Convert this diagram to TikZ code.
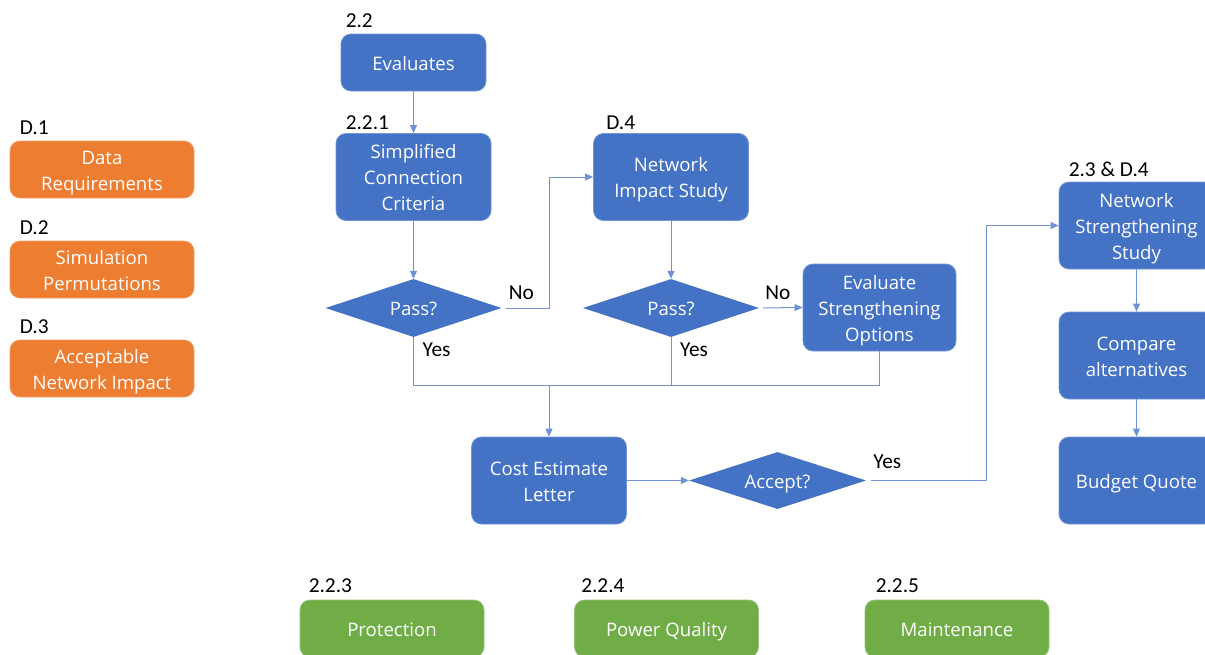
\documentclass[tikz,border=0pt]{standalone}
\usepackage{fontspec}
\usepackage{array}
\setmainfont{Carlito}
\newfontfamily\boxfont{Open Sans}
\usetikzlibrary{shapes.geometric,arrows.meta,calc}
\definecolor{flowblue}{HTML}{4472C4}
\definecolor{linkblue}{HTML}{6E93D6}
\definecolor{dataorange}{HTML}{ED7D31}
\definecolor{studygreen}{HTML}{70AD47}
% centred block of lines, 26pt apart, every line with the same height and depth
\newcommand\rowstrut{\rule[-5.5pt]{0pt}{26pt}}
\newcommand\lines[1]{{\renewcommand\arraystretch{0}%
  \begin{tabular}{@{}>{\rowstrut}c@{}}#1\end{tabular}}}

\begin{document}
\begin{tikzpicture}[x=1pt,y=-1pt,
  box/.style={rectangle, rounded corners=10pt, minimum width=155pt, minimum height=87pt,
    inner sep=2pt, text=white, line width=0.8pt,
    font=\boxfont\fontsize{18.6}{26}\selectfont},
  bluebox/.style={box, fill=flowblue, draw=flowblue!75!white},
  orangebox/.style={box, fill=dataorange, draw=dataorange!75!white,
    minimum width=184pt, minimum height=57pt},
  greenbox/.style={box, fill=studygreen, draw=studygreen!75!white,
    minimum width=184pt, minimum height=57pt},
  decision/.style={diamond, aspect=3, minimum width=176pt, minimum height=58pt,
    inner sep=0pt, fill=flowblue, text=white,
    font=\boxfont\fontsize{18.6}{26}\selectfont},
  tag/.style={anchor=base west, inner sep=0pt, font=\fontsize{21.3}{24}\selectfont},
  link/.style={draw=linkblue, line width=1pt},
  flow/.style={link, -{Triangle[length=8pt,width=7pt]}}
]
\path[use as bounding box] (0,0) rectangle (1205,654);
\clip (0,0) rectangle (1205,654);

% input data boxes
\node[orangebox] (d1) at (102,169.5) {\lines{Data\\Requirements}};
\node[orangebox] (d2) at (102,269.5) {\lines{Simulation\\Permutations}};
\node[orangebox] (d3) at (102,368.5) {\lines{Acceptable\\Network Impact}};
\node[tag] at ($(d1.north west)+(10,-6)$) {D.1};
\node[tag] at ($(d2.north west)+(10,-6)$) {D.2};
\node[tag] at ($(d3.north west)+(10,-6)$) {D.3};

% main evaluation flow
\node[bluebox, minimum width=145pt, minimum height=57pt] (eval) at (413.5,62.5) {\lines{Evaluates}};
\node[bluebox] (scc) at (413.5,177) {\lines{Simplified\\Connection\\Criteria}};
\node[decision] (pass1) at (413.5,308) {\lines{Pass?}};
\node[bluebox] (nis) at (671,177) {\lines{Network\\Impact Study}};
\node[decision] (pass2) at (671,308) {\lines{Pass?}};
\node[bluebox, minimum width=153pt] (eso) at (879.5,307.5) {\lines{Evaluate\\Strengthening\\Options}};
\node[bluebox] (cel) at (549,480.5) {\lines{Cost Estimate\\Letter}};
\node[decision, minimum width=177pt, minimum height=57pt] (acc) at (777.5,480.5) {\lines{Accept?}};
\node[bluebox] (nss) at (1136.5,225.5) {\lines{Network\\Strengthening\\Study}};
\node[bluebox] (cmp) at (1136.5,355.5) {\lines{Compare\\alternatives}};
\node[bluebox] (bq) at (1136.5,480.5) {\lines{Budget Quote}};

\node[tag] at ($(eval.north west)+(5,-6)$) {2.2};
\node[tag] at ($(scc.north west)+(10,-4)$) {2.2.1};
\node[tag] at ($(nis.north west)+(13,-4)$) {D.4};
\node[tag] at ($(nss.north west)+(10,-5)$) {2.3 \& D.4};

% supporting studies
\node[greenbox] (prot) at (392,628.5) {\lines{Protection}};
\node[greenbox] (pq) at (666.5,628.5) {\lines{Power Quality}};
\node[greenbox] (maint) at (957,628.5) {\lines{Maintenance}};
\node[tag] at ($(prot.north west)+(9,-7)$) {2.2.3};
\node[tag] at ($(pq.north west)+(7,-7)$) {2.2.4};
\node[tag] at ($(maint.north west)+(11,-7)$) {2.2.5};

% connectors
\draw[flow] (eval) -- (scc);
\draw[flow] (scc) -- (pass1);
\draw[flow, shorten <=4pt] (pass1.east) -- ++(48,0) |- (nis.west);
\draw[flow] (nis) -- (pass2);
\draw[flow, shorten <=4pt] (pass2.east) -- (eso.west);

\coordinate (merge) at ($(cel.north)+(0,-51)$);
\draw[link] (pass1.south) -- (pass1.south |- merge) -- (eso.south |- merge) -- (eso.south);
\draw[link] (pass2.south) -- (pass2.south |- merge);
\draw[flow] (merge) -- (cel);
\draw[flow] (cel) -- (acc);
\draw[flow, shorten <=5pt] (acc.east) -- ++(120,0) |- (nss.west);
\draw[flow] (nss) -- (cmp);
\draw[flow] (cmp) -- (bq);

% branch labels
\node[tag] at ($(pass1.east)+(7,-9)$) {No};
\node[tag] at ($(pass1.south)+(9,19)$) {Yes};
\node[tag] at ($(pass2.east)+(6,-9)$) {No};
\node[tag] at ($(pass2.south)+(9,19)$) {Yes};
\node[tag] at ($(acc.east)+(7,-12)$) {Yes};
\end{tikzpicture}
\end{document}
